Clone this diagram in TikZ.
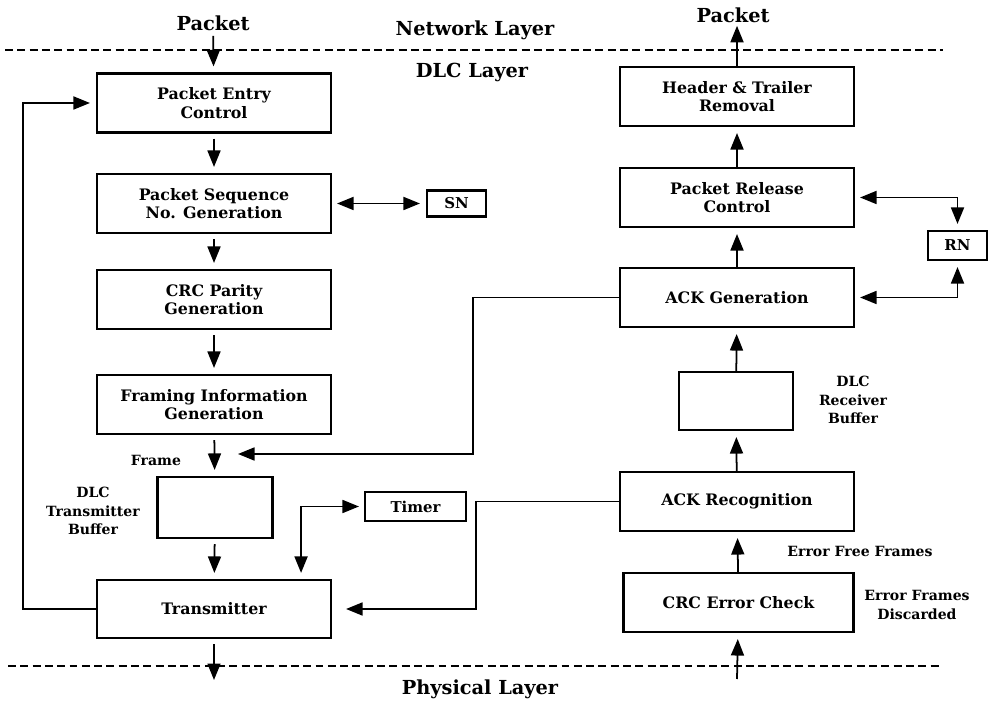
\documentclass[tikz,border=0pt]{standalone}
\usepackage{fontspec}
\setmainfont{DejaVu Serif}
\usetikzlibrary{arrows.meta}
\pgfdeclarelayer{bg}
\pgfsetlayers{bg,main}
\tikzset{blk/.style={draw, fill=white, line width=1.2pt, minimum width=4.68cm, minimum height=1.18cm, inner sep=0mm, align=center, font=\bfseries\fontsize{9}{10.5}\selectfont},
    reg/.style={draw, fill=white, line width=1.2pt, inner sep=0mm, font=\bfseries\fontsize{8.5}{10}\selectfont},
    lbl/.style={inner sep=0mm, align=center, font=\bfseries\fontsize{8}{10.5}\selectfont},
    big/.style={inner sep=0mm, font=\bfseries\fontsize{11}{13}\selectfont},
    layer/.style={line width=1.1pt, dash pattern=on 4.5pt off 2.5pt},
    arr/.style={line width=1pt, ->, shorten <=0.1cm, shorten >=0.12cm},
    >={Triangle[length=3.3mm,width=2.6mm]}}

\begin{document}
\begin{tikzpicture}
    \useasboundingbox (0cm, 0cm) rectangle (19.98cm, 14cm);

    % layer boundaries
    \draw [layer] (0.1cm, 13.0cm) -- (18.86cm, 13.0cm);
    \draw [layer] (0.16cm, 0.68cm) -- (18.8cm, 0.68cm);
    \node (pktin) at (4.26cm, 13.54cm) [big] {Packet};
    \node (pktout) at (14.66cm, 13.7cm) [big] {Packet};
    \node (net) at (9.5cm, 13.4cm) [big] {Network Layer};
    \node (dlc) at (9.44cm, 12.56cm) [big] {DLC Layer};
    \node (phys) at (9.6cm, 0.22cm) [big] {Physical Layer};

    % transmitting side
    \node (entry) at (4.28cm, 11.94cm) [blk] {Packet Entry\\Control};
    \node (seq) at (4.28cm, 9.93cm) [blk] {Packet Sequence\\No. Generation};
    \node (crc) at (4.28cm, 8.01cm) [blk] {CRC Parity\\Generation};
    \node (frm) at (4.28cm, 5.91cm) [blk] {Framing Information\\Generation};
    \node (txbuf) at (4.3cm, 3.85cm) [blk, minimum width=2.3cm, minimum height=1.22cm] {};
    \node (tx) at (4.28cm, 1.82cm) [blk, minimum height=1.16cm] {Transmitter};
    \node (sn) at (9.13cm, 9.93cm) [reg, minimum width=1.18cm, minimum height=0.52cm] {SN};
    \node (timer) at (8.31cm, 3.87cm) [reg, minimum width=2.02cm, minimum height=0.58cm] {Timer};
    \node (frame) at (3.12cm, 4.8cm) [lbl] {Frame};
    \node (txlbl) at (1.86cm, 3.78cm) [lbl] {DLC\\Transmitter\\Buffer};

    % receiving side
    \node (hdr) at (14.74cm, 12.07cm) [blk] {Header \& Trailer\\Removal};
    \node (rel) at (14.74cm, 10.05cm) [blk] {Packet Release\\Control};
    \node (ackg) at (14.74cm, 8.05cm) [blk] {ACK Generation};
    \node (rxbuf) at (14.72cm, 5.98cm) [blk, minimum width=2.28cm, minimum height=1.16cm] {};
    \node (ackr) at (14.74cm, 3.97cm) [blk] {ACK Recognition};
    \node (crcchk) at (14.77cm, 1.95cm) [blk, minimum width=4.6cm] {CRC Error Check};
    \node (rn) at (19.15cm, 9.09cm) [reg, minimum width=1.18cm, minimum height=0.58cm] {RN};
    \node (rxlbl) at (17.06cm, 6.0cm) [lbl] {DLC\\Receiver\\Buffer};
    \node (eff) at (17.2cm, 2.98cm) [lbl] {Error Free Frames};
    \node (efd) at (18.34cm, 1.9cm) [lbl] {Error Frames\\Discarded};

    \coordinate (txo) at (4.28cm, 0.4cm);
    \coordinate (rxi) at (14.74cm, 0.42cm);
    \coordinate (fin) at (4.64cm, 4.92cm);
    \coordinate (fb) at (0.46cm, 0cm);
    \coordinate (gk) at (9.46cm, 0cm);
    \coordinate (rk) at (9.52cm, 0cm);

    \begin{pgfonlayer}{bg}
        \draw (pktin) edge [arr] (entry);
        \draw (entry) edge [arr] (seq);
        \draw (seq) edge [arr] (crc);
        \draw (crc) edge [arr] (frm);
        \draw (frm) edge [arr] (txbuf);
        \draw (txbuf) edge [arr] (tx);
        \draw (tx) edge [arr, shorten >=0cm] (txo);
        \draw (seq) edge [arr, <->] (sn);
        \draw [arr, ->, shorten <=0cm] (tx.west) -- (tx.west -| fb) |- (entry.west);
        \draw [arr, <->] (timer.west) -| ([xshift=-0.62cm]tx.north east);

        \draw (rxi) edge [arr, shorten <=0cm] (crcchk);
        \draw (crcchk) edge [arr, shorten <=0cm] (ackr);
        \draw (ackr) edge [arr, shorten <=0cm] (rxbuf);
        \draw (rxbuf) edge [arr, shorten <=0cm] (ackg);
        \draw (ackg) edge [arr, shorten <=0cm] (rel);
        \draw (rel) edge [arr, shorten <=0cm] (hdr);
        \draw [arr, shorten <=0cm, shorten >=0.06cm] (hdr.north) -- (hdr.north |- pktout.south);
        \draw [arr, <->, shorten <=0.1cm] (rel.east) -| (rn.north);
        \draw [arr, <->, shorten <=0.1cm] (ackg.east) -| (rn.south);
        \draw [arr, shorten <=0cm] (ackg.west) -- (ackg.west -| gk) |- (fin);
        \draw [arr, shorten <=0cm, shorten >=0.28cm] (ackr.west) -- (ackr.west -| rk) |- (tx.east);
    \end{pgfonlayer}
\end{tikzpicture}
\end{document}
